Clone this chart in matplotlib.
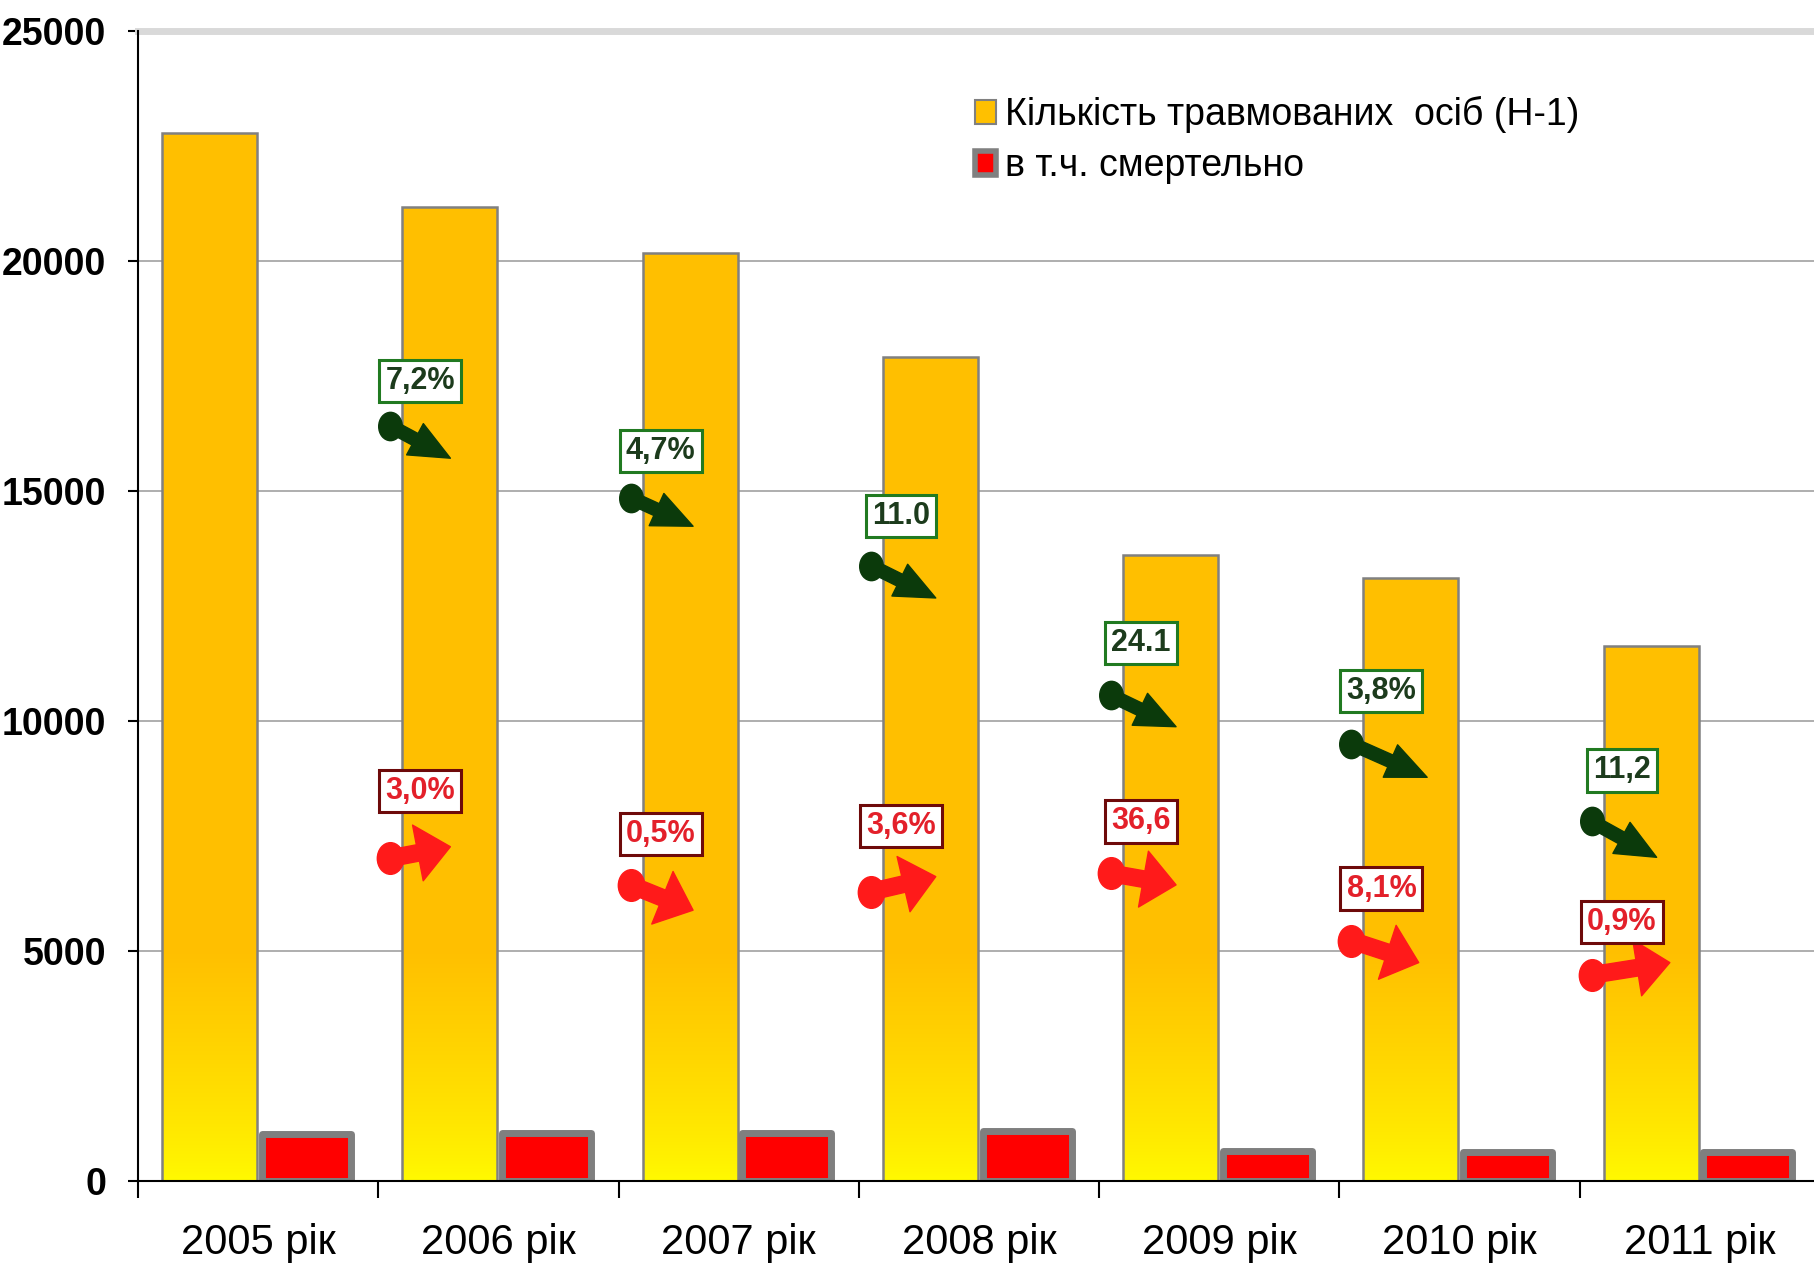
import numpy as np
import matplotlib
matplotlib.use("Agg")
from matplotlib import pyplot as plt
from matplotlib.patches import Patch, FancyArrowPatch
from matplotlib.markers import MarkerStyle
from matplotlib.transforms import Affine2D

plt.rcParams['font.family'] = ['Liberation Sans', 'DejaVu Sans']

# дані
years = ['2005 рік', '2006 рік', '2007 рік', '2008 рік', '2009 рік', '2010 рік', '2011 рік']
injured = [22790, 21180, 20190, 17930, 13610, 13120, 11640]
fatal = [1030, 1040, 1035, 1080, 660, 630, 630]

# підписи змін (2006-2011)
green_labels = ['7,2%', '4,7%', '11.0', '24.1', '3,8%', '11,2']
red_labels = ['3,0%', '0,5%', '3,6%', '36,6', '8,1%', '0,9%']

# розташування підписів і стрілок (по осі y)
green_box_y = [17400, 15870, 14460, 11700, 10660, 8930]
green_dot_y = [16420, 14860, 13380, 10560, 9510, 7820]
green_tip_y = [15720, 14240, 12680, 9880, 8780, 7040]
green_tip_x = [0.30, 0.31, 0.32, 0.32, 0.365, 0.32]
red_box_y = [8480, 7550, 7720, 7820, 6360, 5630]
red_dot_y = [7020, 6440, 6290, 6690, 5230, 4480]
red_tip_y = [7270, 5890, 6620, 6440, 4750, 4750]
red_tip_x = [0.30, 0.31, 0.32, 0.32, 0.33, 0.375]

W, H = 1814, 1267
fig = plt.figure(figsize=(W / 100, H / 100), dpi=100)
ax = fig.add_axes([138 / W, 86 / H, 1682 / W, 1149.5 / H])

x = np.arange(len(years))

# жовті стовпці з градієнтом
ybars = ax.bar(x + 0.1, injured, width=0.395, align='edge', facecolor='none',
               edgecolor='#808080', linewidth=1.8, zorder=3)
top_c = np.array([1.0, 0.75, 0.0])
bot_c = np.array([1.0, 0.98, 0.0])
for b, v in zip(ybars, injured):
    ys = np.linspace(0, v, 300)
    t = np.clip(ys / 5000, 0, 1)[:, None] ** 0.8
    grad = (bot_c * (1 - t) + top_c * t)[:, None, :]
    im = ax.imshow(grad, extent=[b.get_x(), b.get_x() + b.get_width(), 0, v],
                   origin='lower', aspect='auto', zorder=2, interpolation='bilinear')
    im.set_clip_path(b)

# червоні стовпці
ax.bar(x + 0.515, fatal, width=0.37, align='edge', color='#ff0000',
       edgecolor='#7f7f7f', linewidth=5, joinstyle='round', zorder=3)

# стрілки та підписи
ell = MarkerStyle('o', transform=Affine2D().scale(1, 1.2))
for k in range(len(green_labels)):
    i = k + 1
    # зелені
    ax.plot(i + 0.05, green_dot_y[k], marker=ell, ms=17, color='#0b3a0b', zorder=5)
    ax.add_patch(FancyArrowPatch((i + 0.05, green_dot_y[k]), (i + green_tip_x[k], green_tip_y[k]),
                                 arrowstyle='simple,head_length=1.7,head_width=1.5,tail_width=0.55',
                                 mutation_scale=17, color='#0b3a0b', zorder=5,
                                 shrinkA=0, shrinkB=0))
    ax.text(i + 0.175, green_box_y[k], green_labels[k], ha='center', va='center',
            fontsize=22, fontweight='bold', color='#1c3b1c', zorder=6,
            bbox=dict(boxstyle='square,pad=0.2', facecolor='white', edgecolor='#217a21', linewidth=2.2))
    # червоні
    ax.plot(i + 0.05, red_dot_y[k], marker=ell, ms=19, color='#ff1a1a', zorder=5)
    ax.add_patch(FancyArrowPatch((i + 0.05, red_dot_y[k]), (i + red_tip_x[k], red_tip_y[k]),
                                 arrowstyle='simple,head_length=1.4,head_width=2.4,tail_width=0.7',
                                 mutation_scale=17, color='#ff1a1a', zorder=5,
                                 shrinkA=0, shrinkB=0))
    ax.text(i + 0.175, red_box_y[k], red_labels[k], ha='center', va='center',
            fontsize=22, fontweight='bold', color='#e3202a', zorder=6,
            bbox=dict(boxstyle='square,pad=0.2', facecolor='white', edgecolor='#6e0a0a', linewidth=2.2))

# осі
ax.set_xlim(0, 7)
ax.set_ylim(0, 25000)
ax.set_yticks(range(0, 25001, 5000))
ax.set_yticklabels([str(v) for v in range(0, 25001, 5000)], fontweight='bold')
ax.set_xticks(range(8))
ax.set_xticklabels([])
ax.set_xticks(x + 0.5, minor=True)
ax.set_xticklabels(years, minor=True)
ax.tick_params(axis='x', which='major', length=12, width=1.5, direction='out')
ax.tick_params(axis='x', which='minor', length=0, pad=30, labelsize=30)
ax.tick_params(axis='y', length=7, width=1.5, pad=16, labelsize=27)

ax.yaxis.grid(True, color='#a8a8a8', linewidth=1.3, zorder=0)
ax.set_axisbelow(True)
ax.axhline(25000, color='#d9d9d9', linewidth=5, zorder=1, clip_on=False)
for s in ['top', 'right']:
    ax.spines[s].set_visible(False)
for s in ['left', 'bottom']:
    ax.spines[s].set_linewidth(1.5)
    ax.spines[s].set_zorder(4)

# легенда
handles = [Patch(facecolor='#ffc000', edgecolor='#808080', linewidth=1.5),
           Patch(facecolor='#ff0000', edgecolor='#808080', linewidth=4, joinstyle='round')]
fig.legend(handles, ['Кількість травмованих  осіб (Н-1)', 'в т.ч. смертельно'],
           loc='upper left', bbox_to_anchor=(975 / W, 1 - 96 / H), frameon=False,
           fontsize=27, handlelength=0.55, handleheight=0.6, handletextpad=0.25,
           labelspacing=0.4, borderpad=0, borderaxespad=0)

fig.savefig('out.png', dpi=100, facecolor='white')
